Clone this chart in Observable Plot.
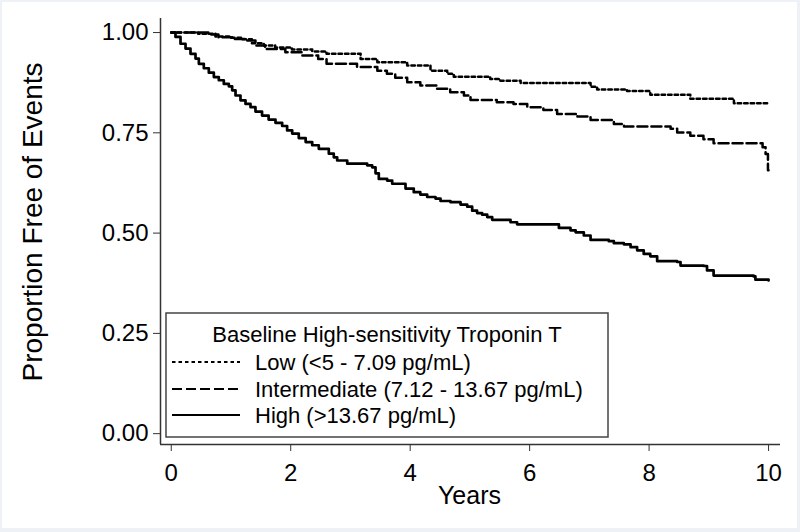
<!DOCTYPE html>
<html>
<head>
<meta charset="utf-8">
<script src="https://cdn.jsdelivr.net/npm/d3@7"></script>
<script src="https://cdn.jsdelivr.net/npm/@observablehq/plot@0.6"></script>
<style>
  html, body { margin: 0; padding: 0; background: #fff; }
  #wrap { position: relative; width: 800px; height: 532px; overflow: hidden; }
  #wrap svg.overlay { position: absolute; left: 0; top: 0; pointer-events: none; }
  #edge { position: absolute; left: 0; top: 0; width: 800px; height: 532px; box-sizing: border-box;
          border-style: solid; border-color: #eef1f5; border-width: 2px 3px 4px 2px; pointer-events: none; }
</style>
</head>
<body>
<div id="wrap"></div>
<script>
// ---- Data ----
const lowTime  = [0, 0.45, 0.74, 1.0, 1.18, 1.35, 1.55, 1.74, 2.02, 2.36, 2.6, 3.17, 3.45, 3.95, 4.34, 4.62, 4.73, 5.34, 5.51, 5.85, 7.02, 7.13, 7.63, 8.02, 8.69, 9.42, 10.0];
const lowSurv  = [1.0, 0.997, 0.99, 0.987, 0.983, 0.973, 0.968, 0.963, 0.958, 0.953, 0.947, 0.934, 0.926, 0.918, 0.905, 0.897, 0.89, 0.884, 0.88, 0.874, 0.865, 0.858, 0.854, 0.845, 0.835, 0.824, 0.824];

const midTime  = [0, 0.45, 0.62, 0.79, 1.02, 1.24, 1.41, 1.57, 1.91, 2.19, 2.46, 2.6, 3.11, 3.45, 3.61, 3.75, 3.95, 4.17, 4.45, 4.67, 4.9, 5.01, 5.45, 5.73, 5.96, 6.23, 6.46, 6.8, 7.02, 7.41, 7.58, 8.36, 8.47, 8.69, 8.91, 9.08, 9.9, 9.95, 9.99, 10.0];
const midSurv  = [1.0, 1.0, 0.995, 0.988, 0.984, 0.98, 0.968, 0.959, 0.951, 0.943, 0.934, 0.922, 0.914, 0.905, 0.897, 0.887, 0.876, 0.868, 0.86, 0.851, 0.843, 0.832, 0.826, 0.822, 0.814, 0.807, 0.797, 0.791, 0.782, 0.772, 0.766, 0.76, 0.751, 0.743, 0.734, 0.724, 0.714, 0.697, 0.657, 0.657];

const highTime = [0, 0.071, 0.155, 0.239, 0.322, 0.406, 0.462, 0.545, 0.629, 0.713, 0.796, 0.88, 0.964, 1.02, 1.076, 1.159, 1.243, 1.327, 1.41, 1.52, 1.63, 1.745, 1.857, 1.94, 2.025, 2.135, 2.25, 2.36, 2.47, 2.638, 2.721, 2.778, 2.946, 3.28, 3.364, 3.42, 3.475, 3.615, 3.699, 3.922, 4.06, 4.17, 4.285, 4.424, 4.508, 4.675, 4.843, 4.955, 5.038, 5.12, 5.205, 5.29, 5.373, 5.68, 5.79, 6.49, 6.684, 6.77, 6.907, 7.02, 7.325, 7.41, 7.577, 7.69, 7.8, 7.91, 8.02, 8.135, 8.47, 8.526, 8.916, 8.97, 9.08, 9.75, 9.78, 10.0];
const highSurv = [1.0, 0.989, 0.972, 0.96, 0.947, 0.935, 0.922, 0.911, 0.9, 0.889, 0.881, 0.872, 0.866, 0.856, 0.843, 0.831, 0.822, 0.814, 0.803, 0.793, 0.783, 0.775, 0.767, 0.756, 0.748, 0.737, 0.727, 0.719, 0.71, 0.698, 0.689, 0.681, 0.673, 0.669, 0.664, 0.649, 0.635, 0.631, 0.623, 0.611, 0.602, 0.596, 0.59, 0.586, 0.58, 0.577, 0.571, 0.566, 0.556, 0.55, 0.546, 0.54, 0.533, 0.527, 0.522, 0.513, 0.507, 0.502, 0.494, 0.483, 0.48, 0.475, 0.472, 0.465, 0.457, 0.448, 0.442, 0.43, 0.428, 0.419, 0.418, 0.407, 0.394, 0.392, 0.384, 0.382];

const groupLabels = ["Low (<5 - 7.09 pg/mL)", "Intermediate (7.12 - 13.67 pg/mL)", "High (>13.67 pg/mL)"];
const legendTitle = "Baseline High-sensitivity Troponin T";
const xTicks = [0, 2, 4, 6, 8, 10];
const yTicks = [0, 0.25, 0.5, 0.75, 1.0];
const xTitle = "Years";
const yTitle = "Proportion Free of Events";

const xDomain = [-0.18, 10.2];
const yDomain = [-0.027, 1.035];

const toRows = (ts, ss) => ts.map((t, i) => ({t, s: ss[i]}));
const low = toRows(lowTime, lowSurv);
const mid = toRows(midTime, midSurv);
const high = toRows(highTime, highSurv);

const dashes = ["3.5 3", "10 4", null];
const FONT = "'Liberation Sans', Arial, Helvetica, sans-serif";

const chart = Plot.plot({
  width: 800, height: 532,
  marginLeft: 160, marginRight: 20, marginTop: 18, marginBottom: 88,
  x: {domain: xDomain},
  y: {domain: yDomain},
  style: {fontFamily: FONT, background: "transparent", color: "#000", overflow: "visible"},
  marks: [
    Plot.ruleX([xDomain[0]], {stroke: "#333", strokeWidth: 1.5}),
    Plot.ruleY([yDomain[0]], {stroke: "#333", strokeWidth: 1.5}),
    Plot.axisX({ticks: xTicks, tickSize: 7, tickPadding: 12, fontSize: 24, label: null, stroke: "#333", fill: "#000"}),
    Plot.axisY({ticks: yTicks, tickFormat: d => d.toFixed(2), tickSize: 7, tickPadding: 5, fontSize: 24, label: null, stroke: "#333", fill: "#000"}),
    Plot.line(low,  {x: "t", y: "s", curve: "step-after", stroke: "#000", strokeWidth: 2.5, strokeDasharray: dashes[0]}),
    Plot.line(mid,  {x: "t", y: "s", curve: "step-after", stroke: "#000", strokeWidth: 2.5, strokeDasharray: dashes[1]}),
    Plot.line(high, {x: "t", y: "s", curve: "step-after", stroke: "#000", strokeWidth: 2.7})
  ]
});

const wrap = document.getElementById("wrap");
wrap.appendChild(chart);

// Overlay: axis titles and legend
const ov = d3.select(wrap).append("svg").attr("class", "overlay")
  .attr("width", 800).attr("height", 532)
  .style("font-family", FONT);

ov.append("text").text(yTitle)
  .attr("transform", "translate(32,222) rotate(-90)")
  .attr("text-anchor", "middle").attr("dominant-baseline", "central")
  .attr("font-size", 28).attr("fill", "#000");

ov.append("text").text(xTitle)
  .attr("x", 469.5).attr("y", 495)
  .attr("text-anchor", "middle").attr("dominant-baseline", "central")
  .attr("font-size", 25).attr("fill", "#000");

const lg = ov.append("g").attr("transform", "translate(166,313)");
lg.append("rect").attr("width", 442).attr("height", 124)
  .attr("fill", "#fff").attr("stroke", "#444").attr("stroke-width", 1.5);
lg.append("text").text(legendTitle)
  .attr("x", 221).attr("y", 21)
  .attr("text-anchor", "middle").attr("dominant-baseline", "central")
  .attr("font-size", 22).attr("fill", "#000");
const rowY = [49, 76, 102];
groupLabels.forEach((lab, i) => {
  lg.append("line").attr("x1", 6).attr("x2", 74).attr("y1", rowY[i]).attr("y2", rowY[i])
    .attr("stroke", "#000").attr("stroke-width", 2.2)
    .attr("stroke-dasharray", dashes[i]);
  lg.append("text").text(lab)
    .attr("x", 89).attr("y", rowY[i])
    .attr("dominant-baseline", "central")
    .attr("font-size", 22).attr("fill", "#000");
});

const edge = document.createElement("div");
edge.id = "edge";
wrap.appendChild(edge);
</script>
</body>
</html>
